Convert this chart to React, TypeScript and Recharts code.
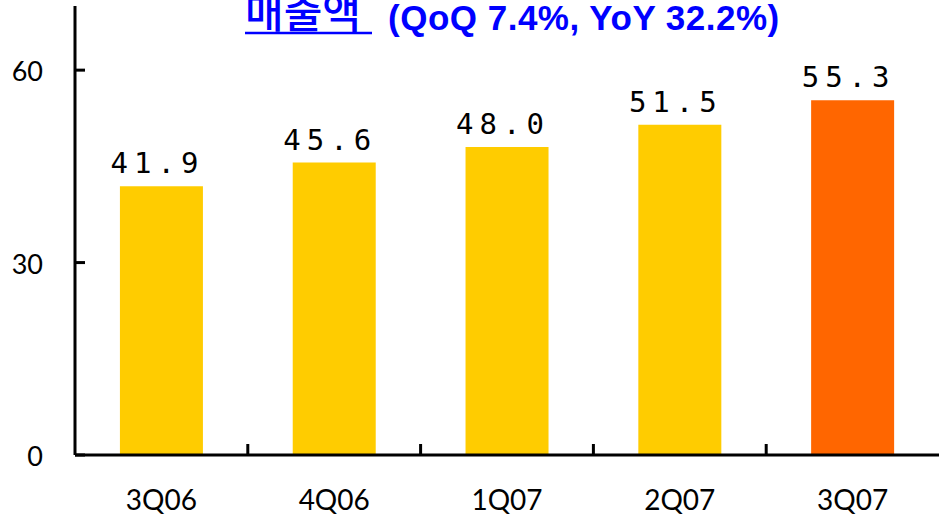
import { Bar, BarChart, Cell, LabelList, XAxis, YAxis } from 'recharts';

const quarters = ['3Q06', '4Q06', '1Q07', '2Q07', '3Q07'];
const sales = [41.9, 45.6, 48.0, 51.5, 55.3];
const yTicks = [0, 30, 60];

const BAR_COLOR = '#ffcc00';
const HIGHLIGHT = '#ff6600';
const AXIS_X = 75;
const BAND = (939 - AXIS_X) / quarters.length;

const data = quarters.map((q, i) => ({ quarter: q, value: sales[i] }));

function YTick({ y, payload }: any) {
  return (
    <g>
      <line x1={AXIS_X} x2={AXIS_X + 10} y1={y} y2={y} stroke="#000" strokeWidth={3} />
      <text x={43} y={y} dy={11} textAnchor="end" fontSize={27} fontFamily="Lato, sans-serif" fill="#000">
        {payload.value}
      </text>
    </g>
  );
}

function XTick({ x, y, payload, index }: any) {
  const edge = x + BAND / 2;
  return (
    <g>
      {index < quarters.length - 1 && (
        <line x1={edge} x2={edge} y1={454} y2={444} stroke="#000" strokeWidth={3} />
      )}
      <text x={x} y={y} dy={47} textAnchor="middle" fontSize={28} fontFamily="Lato, sans-serif" fill="#000">
        {payload.value}
      </text>
    </g>
  );
}

export default function App() {
  return (
    <div style={{ position: 'absolute', left: 0, top: 0, width: 939, height: 519, background: '#fff' }}>
      <BarChart
        width={939}
        height={519}
        data={data}
        margin={{ top: 6, right: 0, bottom: 0, left: 0 }}
        barCategoryGap="26%"
      >
        <YAxis
          domain={[0, 70]}
          ticks={yTicks}
          width={AXIS_X}
          axisLine={{ stroke: '#000', strokeWidth: 3 }}
          tickLine={false}
          tick={<YTick />}
          interval={0}
        />
        <XAxis
          dataKey="quarter"
          height={64}
          axisLine={{ stroke: '#000', strokeWidth: 3 }}
          tickLine={false}
          tick={<XTick />}
          interval={0}
        />
        <Bar dataKey="value" isAnimationActive={false}>
          {data.map((d, i) => (
            <Cell key={d.quarter} fill={i === data.length - 1 ? HIGHLIGHT : BAR_COLOR} />
          ))}
          <LabelList
            dataKey="value"
            position="top"
            offset={13}
            formatter={(v: any) => Number(v).toFixed(1)}
            style={{ fontFamily: '"DejaVu Sans Mono", monospace', fontSize: 29, letterSpacing: 6, fill: '#000', transform: 'translateX(-4px)' }}
          />
        </Bar>
      </BarChart>
      {/* title sits at the very top edge, as in the source slide */}
      <svg width={939} height={50} style={{ position: 'absolute', left: 0, top: 0 }}>
        <text x={245} y={28} fontSize={42} fontFamily='"Noto Sans CJK KR", sans-serif' fontWeight={500} fill="#0000ff">
          매출액
        </text>
        <line x1={245} x2={372} y1={33} y2={33} stroke="#0000ff" strokeWidth={2.5} />
        <text x={388} y={30} fontSize={35} fontFamily='"Liberation Sans", Arial, sans-serif' fontWeight="bold" fill="#0000ff" letterSpacing={0.5}>
          (QoQ 7.4%, YoY 32.2%)
        </text>
      </svg>
    </div>
  );
}
